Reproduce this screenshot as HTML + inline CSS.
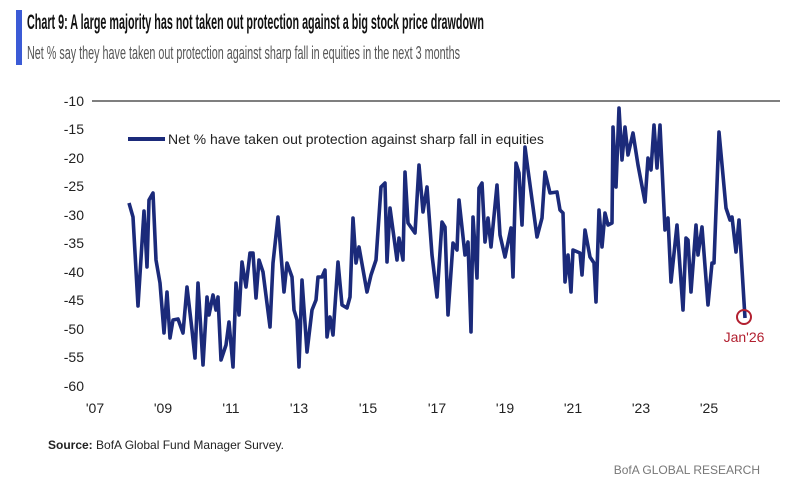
<!DOCTYPE html>
<html><head><meta charset="utf-8"><style>
body{margin:0;background:#fff;width:800px;height:487px;overflow:hidden;font-family:"Liberation Sans",sans-serif}
</style></head><body>
<svg width="800" height="487" xmlns="http://www.w3.org/2000/svg" font-family="Liberation Sans, sans-serif">
<rect x="16" y="10" width="6" height="55" fill="#3b5bd6"/>
<text x="27" y="29" font-size="21" font-weight="bold" fill="#111" textLength="457" lengthAdjust="spacingAndGlyphs">Chart 9: A large majority has not taken out protection against a big stock price drawdown</text>
<text x="27" y="59" font-size="18" fill="#555" textLength="433" lengthAdjust="spacingAndGlyphs">Net % say they have taken out protection against sharp fall in equities in the next 3 months</text>
<line x1="92" y1="101" x2="780" y2="101" stroke="#333" stroke-width="1.2"/>
<g font-size="14" fill="#222" text-anchor="end">
<text x="84" y="106">-10</text><text x="84" y="134">-15</text><text x="84" y="163">-20</text><text x="84" y="191">-25</text><text x="84" y="220">-30</text><text x="84" y="248">-35</text><text x="84" y="277">-40</text><text x="84" y="305">-45</text><text x="84" y="334">-50</text><text x="84" y="362">-55</text><text x="84" y="391">-60</text>
</g>
<g font-size="14" fill="#222" text-anchor="middle">
<text x="95" y="413">'07</text><text x="163" y="413">'09</text><text x="231" y="413">'11</text><text x="299" y="413">'13</text><text x="368" y="413">'15</text><text x="437" y="413">'17</text><text x="505" y="413">'19</text><text x="573" y="413">'21</text><text x="641" y="413">'23</text><text x="709" y="413">'25</text>
</g>
<line x1="128" y1="139" x2="165" y2="139" stroke="#1b2a7a" stroke-width="4"/>
<text x="168" y="144" font-size="14" fill="#222">Net % have taken out protection against sharp fall in equities</text>
<polyline fill="none" stroke="#1b2a7a" stroke-width="3.6" stroke-linejoin="round" points="129,203 133,217 138,306 144,211 147,267 149,200 153,193 156,260 160,283 164,333 167,292 170,338 173,320 178,319 183,333 187,287 192,330 195,358 198,283 203,365 207,297 209,315 213,295 216,310 218,297 221,360 226,345 229,322 233,367 236,283 239,315 242,262 246,287 250,253 253,253 256,298 259,260 263,272 270,327 273,263 278,217 284,292 287,263 292,277 294,310 297,320 299,367 302,280 307,352 312,310 316,300 318,277 322,277 325,270 327,337 330,317 333,335 338,262 342,305 347,308 350,297 353,218 356,263 359,247 367,292 371,275 376,260 381,187 385,183 387,262 390,208 397,260 399,238 403,260 405,172 408,223 415,233 419,165 423,212 427,187 432,255 437,297 442,222 445,227 448,315 453,243 457,250 459,200 465,255 468,242 471,332 473,217 477,278 479,188 482,183 485,242 488,218 491,247 497,185 500,235 505,257 511,228 513,277 516,163 519,173 522,225 525,147 528,170 533,207 537,237 542,218 545,172 550,193 557,192 560,210 563,213 565,282 568,255 571,292 573,250 580,253 582,275 585,230 590,257 594,263 596,302 599,210 602,247 605,213 608,225 612,223 613,127 616,187 619,108 622,160 625,127 628,155 633,133 638,165 645,202 648,158 651,170 654,125 657,168 660,125 665,230 668,218 671,282 677,225 683,310 686,238 688,240 691,292 696,225 698,255 702,227 708,305 712,263 714,263 719,132 726,208 730,220 732,217 736,252 739,220 745,318"/>
<circle cx="744" cy="317" r="7" fill="none" stroke="#b22030" stroke-width="2"/>
<text x="744" y="342" font-size="14" fill="#b22030" text-anchor="middle">Jan'26</text>
<text x="48" y="449" font-size="12" fill="#222"><tspan font-weight="bold">Source:</tspan> BofA Global Fund Manager Survey.</text>
<text x="760" y="474" font-size="12" fill="#777" text-anchor="end">BofA GLOBAL RESEARCH</text>
</svg>
</body></html>
